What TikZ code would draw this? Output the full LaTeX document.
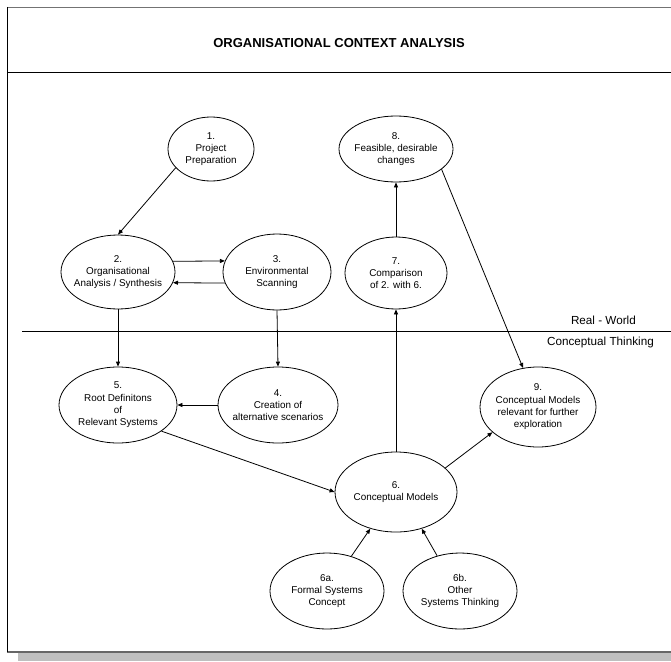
\documentclass[tikz,border=0pt]{standalone}
\usepackage{fontspec}
\setmainfont{Liberation Sans}
\usetikzlibrary{shapes.geometric,arrows.meta}
\begin{document}
\begin{tikzpicture}[x=1pt,y=-1pt,
  ell/.style={draw,ellipse,inner sep=0pt,line width=0.8pt},
  lbl/.style={align=center,font=\fontsize{9.9}{12.3}\selectfont,inner sep=0pt},
  side/.style={font=\fontsize{11.7}{14}\selectfont,inner sep=0pt},
  conn/.style={line width=0.8pt,-{Triangle[length=5pt,width=4pt]}}]
\useasboundingbox (0,0) rectangle (671,661);
\fill[white] (0,0) rectangle (671,661);
% frame and shadow
\fill[black!25] (18,653) rectangle (671,661);
\draw[black!55,line width=1.4pt] (7,7.5) -- (671,7.5);
\draw[black!60,line width=1.4pt] (7,652) -- (671,652);
\draw[line width=1pt] (7,7) -- (7,652);
\draw[line width=1pt] (7,72) -- (671,72);
\node[font=\fontsize{13}{15}\selectfont\bfseries,inner sep=0pt] (title) at (339,43) {ORGANISATIONAL CONTEXT ANALYSIS};
% real world / conceptual split
\coordinate (sepL) at (22,331);
\coordinate (sepR) at (671,331);
\draw[line width=0.8pt] (sepL) -- (sepR);
\node[side,anchor=east] (rw) at (636,320) {Real - World};
\node[side,anchor=east] (ct) at (654,342) {Conceptual Thinking};
% ellipses
\node[ell,minimum width=86pt,minimum height=64pt] (n1) at (211,149) {};
\node[lbl] at (n1) {1.\\Project\\Preparation};
\node[ell,minimum width=114pt,minimum height=66pt] (n8) at (396,149) {};
\node[lbl] at (n8) {8.\\Feasible, desirable\\changes};
\node[ell,minimum width=114pt,minimum height=74pt] (n2) at (118,272) {};
\node[lbl] at (n2) {2.\\Organisational\\Analysis / Synthesis};
\node[ell,minimum width=108pt,minimum height=76pt] (n3) at (277,272) {};
\node[lbl] at (n3) {3.\\Environmental\\Scanning};
\node[ell,minimum width=102pt,minimum height=72pt] (n7) at (396,273) {};
\node[lbl] at (n7) {7.\\Comparison\\of 2. with 6.};
\node[ell,minimum width=118pt,minimum height=76pt] (n5) at (118,405) {};
\node[lbl] at (n5) {5.\\Root Definitons\\of\\Relevant Systems};
\node[ell,minimum width=120pt,minimum height=76pt] (n4) at (278,405) {};
\node[lbl] at (n4) {4.\\Creation of\\alternative scenarios};
\node[ell,minimum width=116pt,minimum height=80pt] (n9) at (538,407) {};
\node[lbl] at (n9) {9.\\Conceptual Models\\relevant for further\\exploration};
\node[ell,minimum width=122pt,minimum height=80pt] (n6) at (396,492) {};
\node[lbl] at (n6) {6.\\Conceptual Models};
\node[ell,minimum width=114pt,minimum height=76pt] (n6a) at (327,591) {};
\node[lbl] at (n6a) {6a.\\Formal Systems\\Concept};
\node[ell,minimum width=114pt,minimum height=76pt] (n6b) at (460,591) {};
\node[lbl] at (n6b) {6b.\\Other\\Systems Thinking};
% connectors
\draw[conn] (n1.208) -- (n2.north);
\draw[conn] (n2.11) -- (n3.168);
\draw[conn] (n3.192) -- (n2.349);
\draw[conn] (n2.south) -- (n5.north);
\draw[conn] (n3.south) -- (n4.north);
\draw[conn] (n4.west) -- (n5.east);
\draw[conn] (n7.north) -- (n8.south);
\draw[conn] (n6.north) -- (n7.south);
\draw[conn] (n8.336) -- (n9.111);
\draw[conn] (n5.329) -- (n6.west);
\draw[conn] (n6.26) -- (n9.209);
\draw[conn] (n6a.55) -- (n6.235);
\draw[conn] (n6b.123) -- (n6.305);
\end{tikzpicture}
\end{document}
